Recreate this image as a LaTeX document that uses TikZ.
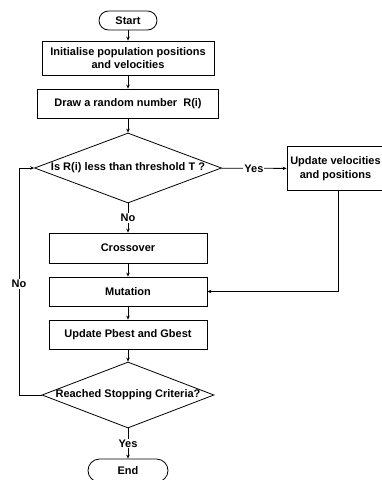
\documentclass[tikz,border=0pt]{standalone}
\usepackage{fontspec}
\setmainfont{Liberation Sans}
\usetikzlibrary{shapes.geometric,arrows.meta}
\begin{document}
\begin{tikzpicture}[x=1pt,y=-1pt,
  every node/.style={font=\bfseries\fontsize{11}{13.5}\selectfont},
  box/.style={draw, line width=0.8pt, inner sep=0pt, align=center},
  term/.style={draw, line width=0.8pt, inner sep=0pt},
  dec/.style={draw, diamond, line width=0.8pt, inner sep=0pt},
  flow/.style={draw, line width=0.8pt, -{Stealth[length=4pt,width=3.5pt]}},
  tag/.style={fill=white, inner sep=1pt}]
\useasboundingbox (0,0) rectangle (382,480);

% terminals
\node[term, rounded corners=9.5pt, minimum width=58pt, minimum height=19pt] (start) at (128,20.5) {Start};
\node[term, rounded corners=11.5pt, minimum width=80pt, minimum height=23pt] (stop) at (128,470.5) {End};

% process boxes
\node[box, minimum width=172pt, minimum height=34pt] (init) at (128,58) {Initialise population positions\\and velocities};
\node[box, minimum width=181pt, minimum height=29pt] (rand) at (128,103.5) {Draw a random number~~R(i)};
\node[box, minimum width=102pt, minimum height=44pt,
      label={[xshift=-2.5pt, align=center]center:Update velocities\\and positions}] (upd) at (338,168.5) {};
\node[box, minimum width=158pt, minimum height=30pt] (cross) at (128,248) {Crossover};
\node[box, minimum width=158pt, minimum height=29pt] (mut) at (128,291.5) {Mutation};
\node[box, minimum width=158pt, minimum height=29pt] (best) at (128,334.5) {Update Pbest and Gbest};

% decisions
\node[dec, minimum width=187pt, minimum height=70pt,
      label={center:Is R(i) less than threshold T ?}] (d1) at (128,168) {};
\node[dec, minimum width=172pt, minimum height=66pt,
      label={center:Reached Stopping Criteria?}] (d2) at (128,395) {};

% connectors
\draw[flow] (start) -- (init);
\draw[flow] (init) -- (rand);
\draw[flow] (rand) -- (d1);
\draw[flow] (d1) -- node[tag] {Yes} (upd);
\draw[flow] (d1) -- node[tag] {No} (cross);
\draw[flow] (cross) -- (mut);
\draw[flow] (upd.south) |- (mut.east);
\draw[flow] (mut) -- (best);
\draw[flow] (best) -- (d2);
\draw[flow] (d2) -- node[tag] {Yes} (stop);

% loop back from the stopping test
\coordinate (lp) at (19,0);
\draw[flow] (d2.west) -- (d2.west -| lp) |- (d1.west);
\node[tag] (loopno) at (19,284) {No};
\end{tikzpicture}
\end{document}
